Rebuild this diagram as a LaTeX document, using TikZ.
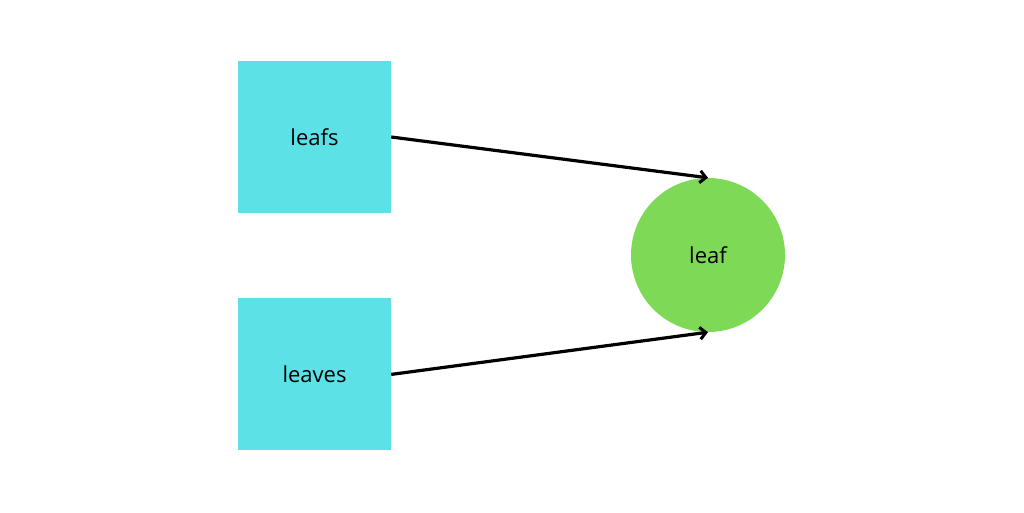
\documentclass[tikz,border=0pt]{standalone}
\usepackage{fontspec}
\setmainfont{Open Sans}
\usetikzlibrary{positioning}
\usetikzlibrary{arrows.meta}
\definecolor{boxcyan}{HTML}{5CE1E6}
\definecolor{leafgreen}{HTML}{7ED957}

\begin{document}
\begin{tikzpicture}[x=1pt, y=-1pt, every node/.style={font=\fontsize{22}{26}\selectfont},
        form/.style={rectangle, fill=boxcyan, minimum width=153pt, minimum height=152pt, inner sep=0pt},
        lemma/.style={circle, fill=leafgreen, minimum size=154pt, inner sep=0pt},
        arr/.style={line width=3.2pt, -{Straight Barb[length=6pt, width=12pt, line width=3pt]}}]
        \useasboundingbox (0, 0) rectangle (1024, 512);
        \node[form] (leafs) at (314.5, 137) {leafs};
        \node[form] (leaves) [below=85pt of leafs] {leaves};
        \node[lemma] (leaf) at (708, 255) {leaf};

        \draw[arr] (leafs.east) -- (leaf.north);
        \draw[arr] (leaves.east) -- (leaf.south);
    \end{tikzpicture}
\end{document}
